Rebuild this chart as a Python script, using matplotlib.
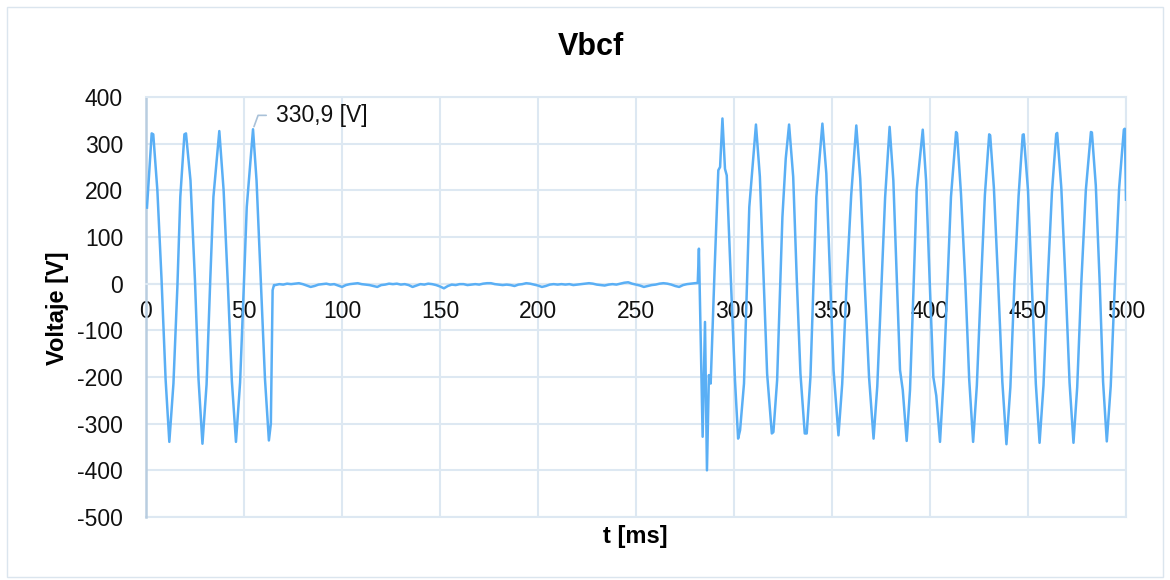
import numpy as np
import matplotlib
matplotlib.use("Agg")
import matplotlib.pyplot as plt
from matplotlib.patches import Rectangle

plt.rcParams['font.family'] = ['Liberation Sans', 'DejaVu Sans']
plt.rcParams['axes.unicode_minus'] = False

# Tensión Vbcf antes de la apertura (t en ms, V en voltios)
t_pre = [0.5, 2.9, 3.7, 5.8, 7.9, 10.0, 11.9, 14.0, 16.0, 17.5,
         19.6, 20.4, 22.7, 25.0, 26.8, 28.8, 30.9, 32.8, 34.4, 37.4,
         39.6, 41.8, 43.8, 45.9, 48.0, 49.9, 51.4, 54.6, 56.4, 58.6,
         60.7, 62.7, 63.7, 64.6, 65.3]
v_pre = [163, 322, 320, 200, 12, -205, -339, -214, -8, 186,
         320, 322, 221, 5, -205, -343, -216, 10, 186, 327,
         200, -5, -208, -339, -212, -6, 164, 330.9, 221, 4,
         -204, -336, -300, -14, -3]

# Tramo abierto: residuo cercano a cero, una muestra cada 2 ms
t_open = np.arange(66, 281, 2)
v_open = [-3, -1, -2, 0, -1, 0, 1, -1, -4, -7, -5, -2,
          -1, 0, -2, -1, -4, -7, -3, -1, 0, 1, -1, -2,
          -3, -5, -7, -3, -2, 0, -1, 0, -2, -1, -3, -7,
          -4, -1, -2, 0, -1, -3, -6, -10, -5, -2, -3, -1,
          -1, -3, -2, -1, -2, 0, 1, 1, -1, -2, -3, -2,
          -3, -5, -2, -1, 1, 0, -2, -4, -7, -5, -2, -1,
          -2, -1, -2, -1, -3, -2, -1, 0, 1, 0, -2, -3,
          -4, -2, -1, -2, 0, 2, 3, 0, -2, -4, -7, -5,
          -3, -2, 0, 1, 0, -2, -5, -7, -3, -1, 0, 1]

# Reconexión: transitorio y régimen permanente
t_post = [281.5, 282.1, 284.0, 285.2, 286.2, 287.2, 288.1, 290.1, 292.0, 292.9,
          294.1, 295.4, 296.3, 298.4, 300.5, 302.1, 303.1, 305.1, 307.8, 311.2,
          313.2, 315.1, 316.9, 319.3, 320.1, 322.0, 324.7, 326.4, 328.1, 330.2,
          332.0, 333.9, 336.1, 337.1, 339.0, 342.0, 345.1, 347.1, 349.0, 350.8,
          353.3, 355.2, 357.5, 359.8, 362.4, 364.4, 366.6, 368.9, 371.2, 373.1,
          375.2, 377.1, 379.4, 381.3, 383.0, 384.7, 386.1, 388.1, 389.8, 391.6,
          393.2, 396.3, 398.0, 399.8, 401.7, 403.2, 405.1, 406.8, 408.8, 410.7,
          413.3, 413.8, 415.8, 418.0, 420.0, 422.0, 423.9, 426.0, 428.0, 430.2,
          430.7, 432.6, 434.8, 436.9, 439.0, 441.0, 443.1, 445.2, 447.3, 447.8,
          450.0, 452.0, 454.0, 455.9, 457.9, 460.0, 462.2, 464.4, 464.9, 467.0,
          469.2, 471.2, 473.2, 475.1, 477.2, 479.5, 482.1, 482.6, 484.6, 486.6,
          488.3, 490.2, 492.2, 494.3, 496.5, 498.9, 499.4, 500.0]
v_post = [1.5, 75, -328, -82, -400, -196, -214, 30, 243, 250,
          354, 246, 232, 8, -207, -332, -314, -214, 164, 341,
          229, 10, -193, -321, -318, -207, 143, 268, 341, 229,
          12, -193, -321, -321, -200, 186, 343, 236, 15, -186,
          -325, -215, 5, 190, 339, 225, 8, -200, -332, -220,
          -5, 185, 336, 221, 20, -185, -228, -337, -228, -10,
          200, 330, 221, 10, -200, -240, -339, -214, -12, 186,
          325, 322, 193, 5, -205, -339, -218, -3, 190, 320,
          318, 205, 0, -210, -344, -222, 5, 188, 319, 320,
          200, -5, -215, -341, -218, 0, 195, 321, 323, 205,
          -2, -212, -341, -222, 2, 200, 325, 324, 210, 0,
          -210, -338, -220, -2, 205, 330, 332, 180]

x_ticks = list(range(0, 501, 50))
y_ticks = list(range(-500, 401, 100))

t_all = np.concatenate([t_pre, t_open, t_post])
v_all = np.concatenate([v_pre, v_open, v_post])

line_color = '#5aaff5'
grid_color = '#dde8f2'
axis_color = '#b9cde0'

fig = plt.figure(figsize=(11.7, 5.8), dpi=100)
ax = fig.add_axes([146 / 1170, 63 / 580, 980 / 1170, 420 / 580])

ax.plot(t_all, v_all, color=line_color, lw=1.8, solid_joinstyle='round', zorder=3)

ax.set_xlim(0, 500)
ax.set_ylim(-500, 400)
ax.set_xticks(x_ticks)
ax.set_yticks(y_ticks)
ax.grid(True, color=grid_color, lw=1.5)
ax.set_axisbelow(True)

for side in ('top', 'right'):
    ax.spines[side].set_color(grid_color)
    ax.spines[side].set_linewidth(1.5)
ax.spines['bottom'].set_position(('data', 0))
ax.spines['bottom'].set_color(grid_color)
ax.spines['bottom'].set_linewidth(1.5)
ax.spines['left'].set_color(axis_color)
ax.spines['left'].set_linewidth(1.8)
ax.axhline(-500, color=grid_color, lw=1.5, clip_on=False, zorder=1)

ax.tick_params(axis='both', length=0, labelsize=16.5, labelcolor='#111111')
ax.tick_params(axis='x', pad=12)
ax.tick_params(axis='y', pad=16.5)

ax.set_xlabel('t [ms]', fontsize=17, fontweight='bold')
ax.xaxis.label.set_va('center')
ax.xaxis.set_label_coords(0.499, -0.0476)
ax.set_ylabel('Voltaje [V]', fontsize=17, fontweight='bold')
ax.yaxis.label.set_va('center')
ax.yaxis.set_label_coords(-0.0903, 0.496)

fig.text(0.505, 0.919, 'Vbcf', ha='center', va='center',
         fontsize=22, fontweight='bold')

# Etiqueta del pico antes de la apertura
i_pk = int(np.argmax(v_pre))
peak_t, peak_v = t_pre[i_pk], v_pre[i_pk]
label = f"{peak_v:.1f}".replace('.', ',') + ' [V]'
ax.annotate(label, xy=(peak_t, peak_v), xytext=(16.5, 10),
            textcoords='offset points', ha='left', va='center',
            fontsize=16.5, color='#111111',
            arrowprops=dict(arrowstyle='-', color='#a9c1d8', lw=1.2,
                            shrinkA=5, shrinkB=2,
                            connectionstyle='angle,angleA=180,angleB=70,rad=0'))

fig.patches.append(Rectangle((7.3 / 1170, 3 / 580), (1163 - 7.3) / 1170, 570 / 580,
                             transform=fig.transFigure, fill=False,
                             edgecolor='#dbe5ee', lw=1.0))

fig.savefig('out.png', dpi=100)
